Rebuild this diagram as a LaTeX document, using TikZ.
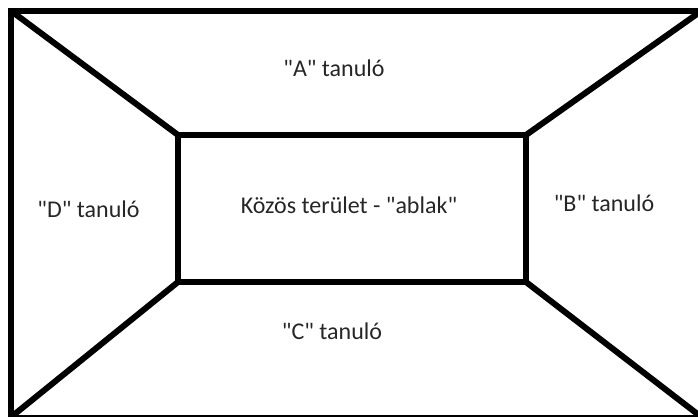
\documentclass[tikz,border=0pt]{standalone}
\usepackage{fontspec}
\setmainfont{Carlito}[Ligatures=TeXOff]
\begin{document}
\begin{tikzpicture}[x=1pt,y=-1pt,
  frame/.style={line width=6pt,line join=miter},
  lbl/.style={font=\fontsize{24}{28}\selectfont,inner sep=0pt,anchor=base,text=black!85}]
\useasboundingbox (0,0) rectangle (698,416);
\clip (0,0) rectangle (698,416);
\coordinate (o1) at (10.5,10.5);
\coordinate (o2) at (702,10.5);
\coordinate (o3) at (702,417.5);
\coordinate (o4) at (10.5,417.5);
\coordinate (i1) at (178,135);
\coordinate (i2) at (526,135);
\coordinate (i3) at (526,282);
\coordinate (i4) at (178,282);
\draw[frame] (o1) rectangle (o3);
\draw[frame] (i1) rectangle (i3);
\draw[frame] (o1) -- (i1);
\draw[frame] (o2) -- (i2);
\draw[frame] (o3) -- (i3);
\draw[frame] (o4) -- (i4);
\node[lbl] (a) at (334,76) {"A" tanuló};
\node[lbl] (b) at (604,211) {"B" tanuló};
\node[lbl] (c) at (332,339) {"C" tanuló};
\node[lbl] (d) at (88.5,217) {"D" tanuló};
\node[lbl] (k) at (349,213) {Közös terület - "ablak"};
\end{tikzpicture}
\end{document}
